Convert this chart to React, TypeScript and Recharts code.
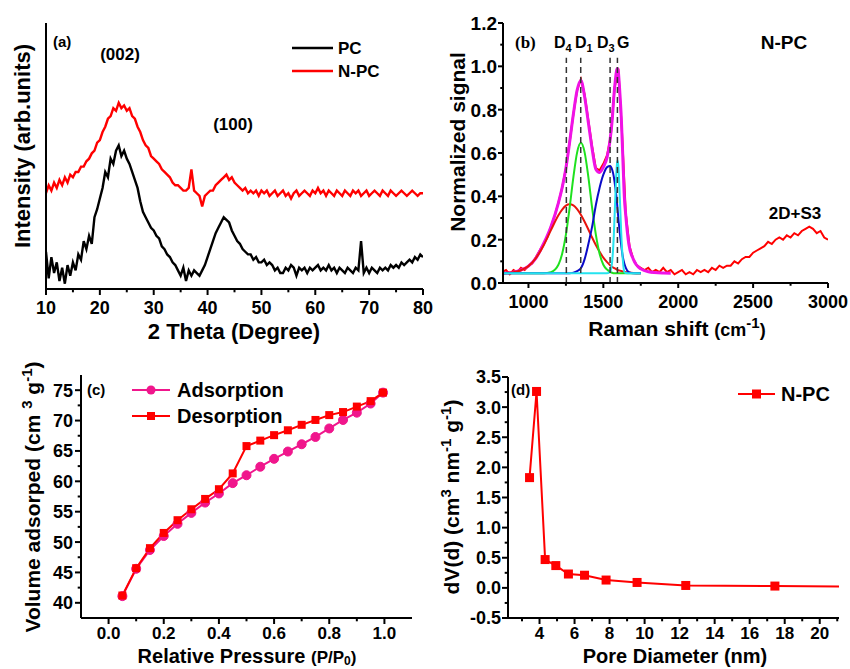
import { LineChart, Line, XAxis, YAxis, ReferenceLine } from "recharts";

const FONT = "'Liberation Sans', Arial, Helvetica, sans-serif";
const W = 850;
const H = 669;

// (a) XRD patterns, 2θ from 10° to 80° every 0.5°, arbitrary intensity units
const XRD_START = 10;
const XRD_STEP = 0.5;
const XRD_PC = [
  14, 4, 12, 6, 10, 3, 8, 2, 9, 5,
  10, 7, 13, 11, 18, 15, 20, 17, 27, 30,
  34, 38, 44, 42, 49, 47, 52, 54, 50, 52,
  49, 47, 44, 41, 38, 33, 29, 27, 25, 23,
  22, 20, 19, 16, 15, 13, 12, 10, 9, 7,
  5, 8, 3, 7, 5, 7, 6, 5, 7, 9,
  12, 15, 18, 21, 23, 25, 27, 26, 25, 22,
  20, 18, 17, 15, 14, 13, 13, 11, 12, 10,
  10, 11, 9, 10, 9, 7, 8, 6, 6, 8,
  7, 9, 8, 5, 8, 7, 8, 6, 8, 7,
  8, 9, 7, 8, 7, 9, 7, 8, 6, 8,
  7, 6, 8, 7, 6, 8, 7, 18, 6, 8,
  6, 8, 7, 6, 8, 7, 8, 7, 9, 8,
  9, 8, 10, 9, 10, 11, 10, 12, 11, 13,
  12,
];
const XRD_NPC = [
  36, 39, 37, 40, 38, 41, 39, 42, 40, 43,
  42, 44, 44, 46, 46, 48, 49, 51, 52, 55,
  56, 59, 61, 64, 65, 68, 67, 70, 68, 69,
  67, 68, 65, 64, 61, 59, 56, 54, 53, 50,
  49, 48, 47, 45, 44, 43, 42, 40, 39, 39,
  38, 37, 37, 38, 45, 37, 36, 35, 31, 35,
  36, 37, 37, 39, 40, 41, 42, 43, 41, 42,
  40, 39, 38, 37, 38, 36, 37, 36, 37, 35,
  37, 36, 37, 35, 36, 37, 35, 36, 37, 35,
  36, 34, 36, 37, 35, 36, 37, 36, 35, 37,
  36, 38, 36, 37, 35, 37, 36, 35, 37, 36,
  35, 37, 36, 35, 37, 36, 37, 35, 36, 37,
  35, 36, 37, 36, 35, 37, 36, 35, 37, 36,
  35, 36, 37, 36, 35, 36, 37, 36, 35, 36,
  36,
];
const XRD_TICKS = [10, 15, 20, 25, 30, 35, 40, 45, 50, 55, 60, 65, 70, 75, 80];

// (b) Raman spectrum, every 25 cm-1 from 825 to 3000
const RAMAN_START = 825;
const RAMAN_STEP = 25;
const RAMAN_NPC = [
  0.05,
  0.06, 0.04, 0.06, 0.05, 0.07, 0.06, 0.08, 0.09, 0.12, 0.15,
  0.18, 0.21, 0.26, 0.31, 0.37, 0.44, 0.53, 0.65, 0.78, 0.89,
  0.94, 0.87, 0.75, 0.63, 0.53, 0.52, 0.55, 0.59, 0.68, 0.9,
  0.99, 0.69, 0.32, 0.17, 0.11, 0.08, 0.07, 0.06, 0.07, 0.05,
  0.06, 0.05, 0.07, 0.05, 0.06, 0.04, 0.05, 0.06, 0.04, 0.05,
  0.04, 0.06, 0.05, 0.06, 0.05, 0.07, 0.06, 0.08, 0.07, 0.08,
  0.08, 0.1, 0.09, 0.11, 0.12, 0.12, 0.14, 0.15, 0.16, 0.17,
  0.19, 0.18, 0.2, 0.21, 0.2, 0.22, 0.21, 0.23, 0.22, 0.24,
  0.25, 0.26, 0.25, 0.23, 0.24, 0.21, 0.2,
];
// fitted peaks, on a shared grid of shifts
const FIT_X = [
  830, 900, 950, 1000, 1050, 1100, 1150, 1200, 1225, 1250,
  1275, 1300, 1325, 1350, 1375, 1400, 1425, 1450, 1475, 1500,
  1525, 1545, 1560, 1570, 1580, 1590, 1595, 1600, 1610, 1620,
  1630, 1640, 1650, 1670, 1700, 1750, 1800, 1900, 1950,
];
const FIT_SUM = [
  0.045, 0.05, 0.06, 0.078, 0.115, 0.18, 0.26, 0.37, 0.44, 0.53,
  0.65, 0.78, 0.89, 0.935, 0.86, 0.74, 0.62, 0.525, 0.51, 0.535,
  0.58, 0.66, 0.76, 0.86, 0.935, 0.985, 0.99, 0.975, 0.88, 0.76,
  0.58, 0.4, 0.31, 0.18, 0.11, 0.065, 0.052, 0.046, 0.045,
];
const FIT_D4 = [
  0.046, 0.05, 0.059, 0.078, 0.115, 0.172, 0.244, 0.313, 0.339, 0.357,
  0.363, 0.358, 0.341, 0.315, 0.283, 0.247, 0.21, 0.175, 0.144, 0.117,
  0.096, 0.082, 0.074, 0.07, 0.066, 0.062, 0.06, 0.059, 0.057, 0.055,
  0.053, 0.051, 0.05, 0.048, 0.046, 0.045,
];
const FIT_D1 = [
  0.045, 0.045, 0.045, 0.045, 0.045, 0.045, 0.05, 0.084, 0.135, 0.223,
  0.348, 0.489, 0.603, 0.647, 0.603, 0.489, 0.348, 0.223, 0.135, 0.084,
  0.062, 0.051, 0.047, 0.045, 0.045, 0.045, 0.045, 0.045, 0.045, 0.045,
  0.045, 0.045, 0.045, 0.045, 0.045, 0.045,
];
const FIT_D3 = [
  0.045, 0.045, 0.045, 0.045, 0.045, 0.045, 0.045, 0.045, 0.045, 0.045,
  0.045, 0.048, 0.055, 0.068, 0.11, 0.18, 0.26, 0.36, 0.44, 0.5,
  0.535, 0.54, 0.52, 0.49, 0.44, 0.38, 0.34, 0.3, 0.23, 0.17,
  0.12, 0.09, 0.07, 0.05, 0.045, 0.045,
];
const FIT_G = [
  0.045, 0.045, 0.045, 0.045, 0.045, 0.045, 0.045, 0.045, 0.045, 0.045,
  0.045, 0.045, 0.045, 0.045, 0.045, 0.045, 0.045, 0.045, 0.045, 0.045,
  0.045, 0.052, 0.107, 0.221, 0.397, 0.543, 0.565, 0.543, 0.397, 0.221,
  0.107, 0.052, 0.046, 0.045, 0.045, 0.045,
];
const BAND_POS = [1253, 1349, 1545, 1594];
const RAMAN_X_TICKS = [1000, 1250, 1500, 1750, 2000, 2250, 2500, 2750, 3000];
const RAMAN_Y_TICKS = [0, 0.1, 0.2, 0.3, 0.4, 0.5, 0.6, 0.7, 0.8, 0.9, 1.0, 1.1, 1.2];

// (c) N2 isotherm
const P_REL = [0.05, 0.1, 0.15, 0.2, 0.25, 0.3, 0.35, 0.4, 0.45, 0.5, 0.55, 0.6, 0.65, 0.7, 0.75, 0.8, 0.85, 0.9, 0.95, 0.995];
const ADSORPTION = [41.1, 45.6, 48.7, 51.0, 53.0, 54.8, 56.5, 58.0, 59.7, 61.0, 62.4, 63.7, 64.9, 66.1, 67.3, 68.7, 70.1, 71.3, 72.8, 74.6];
const DESORPTION = [41.2, 45.7, 49.0, 51.5, 53.6, 55.4, 57.1, 58.7, 61.3, 65.8, 66.7, 67.6, 68.4, 69.3, 70.1, 70.9, 71.4, 72.3, 73.2, 74.6];
const P_TICKS = [0, 0.1, 0.2, 0.3, 0.4, 0.5, 0.6, 0.7, 0.8, 0.9, 1.0];
const V_TICKS = [40, 42.5, 45, 47.5, 50, 52.5, 55, 57.5, 60, 62.5, 65, 67.5, 70, 72.5, 75];

// (d) pore size distribution
const PORE_D = [3.43, 3.83, 4.32, 4.93, 5.65, 6.57, 7.8, 9.57, 12.35, 17.44, 24];
const PORE_DV = [1.83, 3.26, 0.47, 0.37, 0.23, 0.21, 0.13, 0.09, 0.04, 0.03, 0.02];
const D_TICKS = [3, 4, 5, 6, 7, 8, 9, 10, 11, 12, 13, 14, 15, 16, 17, 18, 19, 20, 21];
const DV_TICKS = [-0.5, -0.25, 0, 0.25, 0.5, 0.75, 1, 1.25, 1.5, 1.75, 2, 2.25, 2.5, 2.75, 3, 3.25, 3.5];

const RED = "#ff0000";
const PINK = "#f0168c";
const MAGENTA = "#f012e6";

const xrdData = XRD_PC.map((pc, i) => ({ x: XRD_START + i * XRD_STEP, pc, npc: XRD_NPC[i] }));
const ramanData = RAMAN_NPC.map((y, i) => ({ x: RAMAN_START + i * RAMAN_STEP, y }));
const fit = (ys: number[]) => ys.map((y, i) => ({ x: FIT_X[i], y }));
const isoData = P_REL.map((p, i) => ({ p, ads: ADSORPTION[i], des: DESORPTION[i] }));
const poreData = PORE_D.map((d, i) => ({ d, dv: PORE_DV[i] }));

const AXIS_LINE = { stroke: "#000", strokeWidth: 2 };

const xTick =
  (isMajor: (v: number) => boolean, fmt: (v: number) => string, fs: number, base: number, len = 6) =>
  (props: any) => {
    const { x, y, payload } = props;
    const major = isMajor(payload.value);
    return (
      <g>
        <line x1={x} x2={x} y1={y} y2={y + (major ? len : len * 0.55)} stroke="#000" strokeWidth={2} />
        {major && (
          <text x={x} y={y + base} textAnchor="middle" fontSize={fs} fontWeight={700} fontFamily={FONT} fill="#000">
            {fmt(payload.value)}
          </text>
        )}
      </g>
    );
  };

const yTick =
  (isMajor: (v: number) => boolean, fmt: (v: number) => string, fs: number, gap: number, len = 6) =>
  (props: any) => {
    const { x, y, payload } = props;
    const major = isMajor(payload.value);
    return (
      <g>
        <line x1={x - (major ? len : len * 0.55)} x2={x} y1={y} y2={y} stroke="#000" strokeWidth={2} />
        {major && (
          <text x={x - gap} y={y + fs * 0.36} textAnchor="end" fontSize={fs} fontWeight={700} fontFamily={FONT} fill="#000">
            {fmt(payload.value)}
          </text>
        )}
      </g>
    );
  };

const frame = (xd: number[], yd: number[]) => [
  <XAxis key="ft" xAxisId="top" orientation="top" type="number" domain={xd} height={0} tick={false} tickLine={false} axisLine={AXIS_LINE} allowDataOverflow />,
  <YAxis key="fr" yAxisId="right" orientation="right" type="number" domain={yd} width={0} tick={false} tickLine={false} axisLine={AXIS_LINE} allowDataOverflow />,
];

const layer: React.CSSProperties = { position: "absolute", left: 0, top: 0 };

const square = (size: number, color: string, maxX: number, key: string) => (p: any) => {
  if (p.payload[key] > maxX) return <g key={`sq-${p.index}`} />;
  return <rect key={`sq-${p.index}`} x={p.cx - size / 2} y={p.cy - size / 2} width={size} height={size} fill={color} />;
};

const T = { fontFamily: FONT, fontWeight: 700, fill: "#000" } as const;

export default function App() {
  return (
    <div style={{ position: "absolute", left: 0, top: 0, width: W, height: H, background: "#fff" }}>
      {/* (a) XRD */}
      <div style={layer}>
        <LineChart width={W} height={H} data={xrdData} margin={{ top: 23, left: 6, right: W - 423, bottom: H - 289 - 30 }}>
          <XAxis dataKey="x" type="number" domain={[10, 80]} ticks={XRD_TICKS} interval={0} height={30} tickSize={0} tickMargin={0} tickLine={false} axisLine={AXIS_LINE} allowDataOverflow
            tick={xTick((v) => v % 10 === 0, (v) => String(v), 18, 25)} />
          <YAxis type="number" domain={[0, 100]} width={40} tick={false} tickLine={false} axisLine={AXIS_LINE} allowDataOverflow />
          {frame([10, 80], [0, 100])}
          <Line dataKey="pc" stroke="#000" strokeWidth={2.4} strokeLinejoin="miter" dot={false} isAnimationActive={false} />
          <Line dataKey="npc" stroke={RED} strokeWidth={2.4} strokeLinejoin="miter" dot={false} isAnimationActive={false} />
        </LineChart>
      </div>

      {/* (b) Raman */}
      <div style={layer}>
        <LineChart width={W} height={H} margin={{ top: 23, left: 503 - 40, right: W - 828, bottom: H - 283 - 30 }}>
          <XAxis dataKey="x" type="number" domain={[830, 3000]} ticks={RAMAN_X_TICKS} interval={0} height={30} tickSize={0} tickMargin={0} tickLine={false} axisLine={AXIS_LINE} allowDataOverflow
            tick={xTick((v) => v % 500 === 0, (v) => String(v), 18, 25, 5)} />
          <YAxis type="number" domain={[0, 1.2]} ticks={RAMAN_Y_TICKS} interval={0} width={40} tickSize={0} tickMargin={0} tickLine={false} axisLine={AXIS_LINE} allowDataOverflow
            tick={yTick((v) => Math.round(v * 10) % 2 === 0, (v) => v.toFixed(1), 19, 6, 5)} />
          {frame([830, 3000], [0, 1.2])}
          <Line data={ramanData} dataKey="y" stroke={RED} strokeWidth={2} dot={false} isAnimationActive={false} />
          <Line data={fit(FIT_SUM)} dataKey="y" type="monotone" stroke={MAGENTA} strokeWidth={3} dot={false} isAnimationActive={false} />
          <Line data={fit(FIT_D4)} dataKey="y" type="monotone" stroke="#e8140c" strokeWidth={2} dot={false} isAnimationActive={false} />
          <Line data={fit(FIT_D1)} dataKey="y" type="monotone" stroke="#1ee11e" strokeWidth={2} dot={false} isAnimationActive={false} />
          <Line data={fit(FIT_D3)} dataKey="y" type="monotone" stroke="#0a0ac8" strokeWidth={2} dot={false} isAnimationActive={false} />
          <Line data={fit(FIT_G)} dataKey="y" type="monotone" stroke="#25e3ef" strokeWidth={2} dot={false} isAnimationActive={false} />
          {BAND_POS.map((b) => (
            <ReferenceLine key={b} segment={[{ x: b, y: 0 }, { x: b, y: 1.04 }]} stroke="#333" strokeWidth={1.5} strokeDasharray="6 4" />
          ))}
        </LineChart>
      </div>

      {/* (c) isotherm */}
      <div style={layer}>
        <LineChart width={W} height={H} data={isoData} margin={{ top: 375, left: 81 - 40, right: W - 412, bottom: H - 618 - 30 }}>
          <XAxis dataKey="p" type="number" domain={[-0.1, 1.1]} ticks={P_TICKS} interval={0} height={30} tickSize={0} tickMargin={0} tickLine={false} axisLine={AXIS_LINE} allowDataOverflow
            tick={xTick((v) => Math.round(v * 10) % 2 === 0, (v) => v.toFixed(1), 17, 21)} />
          <YAxis type="number" domain={[37.5, 77.5]} ticks={V_TICKS} interval={0} width={40} tickSize={0} tickMargin={0} tickLine={false} axisLine={AXIS_LINE} allowDataOverflow
            tick={yTick((v) => v % 5 === 0, (v) => String(v), 18, 8)} />
          {frame([-0.1, 1.1], [37.5, 77.5])}
          <Line dataKey="ads" stroke={PINK} strokeWidth={2} isAnimationActive={false}
            dot={{ r: 4.5, fill: PINK, stroke: PINK, strokeWidth: 1 }} />
          <Line dataKey="des" stroke={RED} strokeWidth={2} isAnimationActive={false}
            dot={square(8, RED, 2, "p")} />
        </LineChart>
      </div>

      {/* (d) pore size */}
      <div style={layer}>
        <LineChart width={W} height={H} data={poreData} margin={{ top: 377, left: 508 - 40, right: W - 839, bottom: H - 618 - 30 }}>
          <XAxis dataKey="d" type="number" domain={[2.2, 21.1]} ticks={D_TICKS} interval={0} height={30} tickSize={0} tickMargin={0} tickLine={false} axisLine={AXIS_LINE} allowDataOverflow
            tick={xTick((v) => v % 2 === 0, (v) => String(v), 17, 21)} />
          <YAxis type="number" domain={[-0.5, 3.5]} ticks={DV_TICKS} interval={0} width={40} tickSize={0} tickMargin={0} tickLine={false} axisLine={AXIS_LINE} allowDataOverflow
            tick={yTick((v) => Math.round(v * 100) % 50 === 0, (v) => v.toFixed(1), 18, 7)} />
          {frame([2.2, 21.1], [-0.5, 3.5])}
          <Line dataKey="dv" stroke={RED} strokeWidth={2} isAnimationActive={false}
            dot={square(9, RED, 21.1, "d")} />
        </LineChart>
      </div>

      {/* labels, annotations and legends */}
      <svg width={W} height={H} style={{ ...layer, pointerEvents: "none" }}>
        {/* (a) */}
        <text x={53} y={47} fontSize={15} {...T}>(a)</text>
        <text x={120} y={60} fontSize={17} textAnchor="middle" {...T}>(002)</text>
        <text x={233} y={130} fontSize={17} textAnchor="middle" {...T}>(100)</text>
        <line x1={292} x2={333} y1={48} y2={48} stroke="#000" strokeWidth={2.5} />
        <text x={338} y={54} fontSize={17} {...T}>PC</text>
        <line x1={292} x2={333} y1={71} y2={71} stroke={RED} strokeWidth={2.5} />
        <text x={338} y={77} fontSize={17} {...T}>N-PC</text>
        <text x={234} y={339} fontSize={22} textAnchor="middle" {...T}>2 Theta (Degree)</text>
        <text transform="translate(30,146) rotate(-90)" fontSize={22} textAnchor="middle" {...T}>Intensity (arb.units)</text>

        {/* (b) */}
        <text x={515} y={48} fontSize={17} fontFamily="'Liberation Serif', 'DejaVu Serif', serif" fontWeight={700} fill="#000">(b)</text>
        <text x={784} y={49} fontSize={19} textAnchor="middle" {...T}>N-PC</text>
        <text x={554} y={48} fontSize={16} {...T}>D<tspan fontSize={11} dy={4}>4</tspan></text>
        <text x={575} y={48} fontSize={16} {...T}>D<tspan fontSize={11} dy={4}>1</tspan></text>
        <text x={597} y={48} fontSize={16} {...T}>D<tspan fontSize={11} dy={4}>3</tspan></text>
        <text x={617} y={48} fontSize={16} {...T}>G</text>
        <text x={795} y={219} fontSize={17} textAnchor="middle" {...T}>2D+S3</text>
        <text x={677} y={336} fontSize={21} textAnchor="middle" {...T}>
          Raman shift <tspan fontSize={18}>(cm</tspan><tspan fontSize={15} dy={-8}>-1</tspan><tspan fontSize={18} dy={8}>)</tspan>
        </text>
        <text transform="translate(465,142) rotate(-90)" fontSize={21} textAnchor="middle" {...T}>Normalized signal</text>

        {/* (c) */}
        <text x={87} y={395} fontSize={15} {...T}>(c)</text>
        <line x1={132} x2={170} y1={390} y2={390} stroke={PINK} strokeWidth={2} />
        <circle cx={151} cy={390} r={4.5} fill={PINK} />
        <text x={177} y={397} fontSize={20} {...T}>Adsorption</text>
        <line x1={132} x2={170} y1={416} y2={416} stroke={RED} strokeWidth={2} />
        <rect x={147} y={412} width={8} height={8} fill={RED} />
        <text x={177} y={423} fontSize={20} {...T}>Desorption</text>
        <text x={247} y={663} fontSize={20} textAnchor="middle" {...T}>
          Relative Pressure <tspan fontSize={17}>(P/P</tspan><tspan fontSize={12} dy={2}>0</tspan><tspan fontSize={17} dy={-2}>)</tspan>
        </text>
        <text transform="translate(40,497) rotate(-90)" fontSize={21} textAnchor="middle" {...T}>
          Volume adsorped (cm <tspan fontSize={15} dy={-8}>3</tspan><tspan dy={8}> g</tspan><tspan fontSize={15} dy={-8}>-1</tspan><tspan dy={8}>)</tspan>
        </text>

        {/* (d) */}
        <text x={511} y={395} fontSize={15} {...T}>(d)</text>
        <line x1={738} x2={775} y1={394} y2={394} stroke={RED} strokeWidth={2} />
        <rect x={752} y={389.5} width={9} height={9} fill={RED} />
        <text x={781} y={401} fontSize={20} {...T}>N-PC</text>
        <text x={675} y={663} fontSize={20} textAnchor="middle" {...T}>Pore Diameter (nm)</text>
        <text transform="translate(459,497) rotate(-90)" fontSize={21} textAnchor="middle" {...T}>
          dV(d) (cm<tspan fontSize={15} dy={-8}>3</tspan><tspan dy={8}> nm</tspan><tspan fontSize={15} dy={-8}>-1</tspan><tspan dy={8}> g</tspan><tspan fontSize={15} dy={-8}>-1</tspan><tspan dy={8}>)</tspan>
        </text>
      </svg>
    </div>
  );
}
